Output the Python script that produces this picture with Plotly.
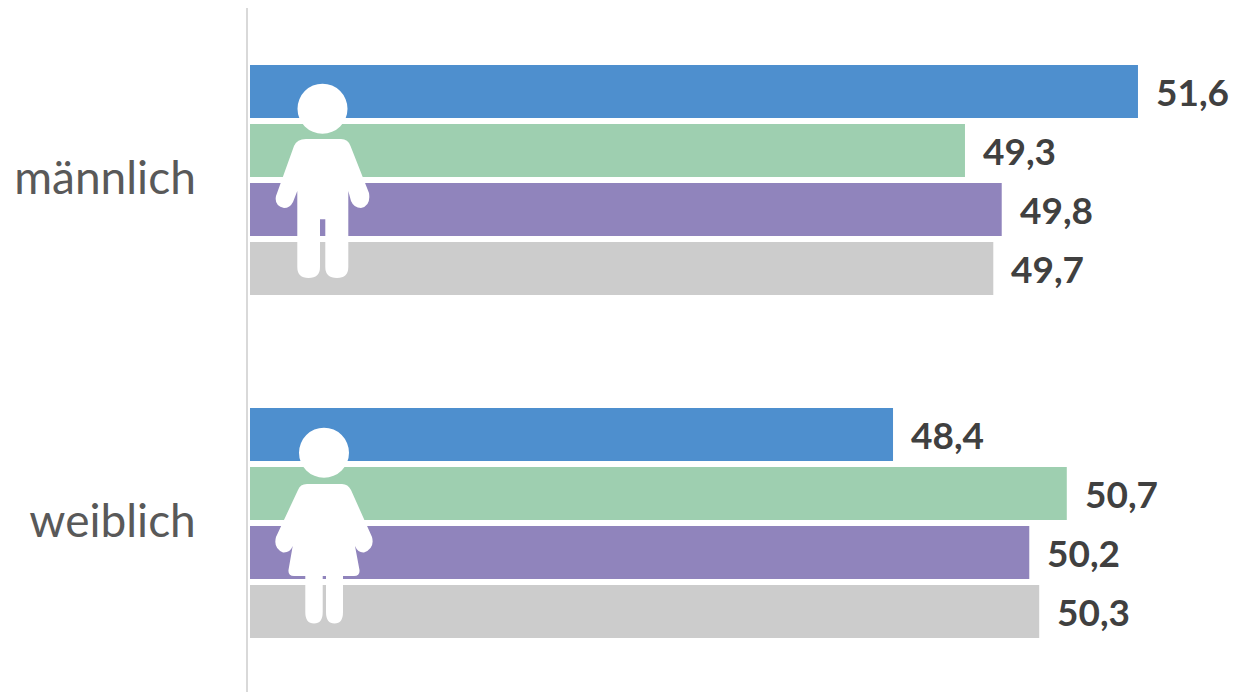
import plotly.graph_objects as go

categories = ["männlich", "weiblich"]
series_names = ["Reihe 1", "Reihe 2", "Reihe 3", "Reihe 4"]
series_1 = [51.6, 48.4]
series_2 = [49.34, 50.67]
series_3 = [49.82, 50.18]
series_4 = [49.71, 50.31]
labels_1 = ["51,6", "48,4"]
labels_2 = ["49,3", "50,7"]
labels_3 = ["49,8", "50,2"]
labels_4 = ["49,7", "50,3"]
colors = ["#4e8fce", "#9ecfb0", "#9084bc", "#cccccc"]

BASE = 40
W, H = 1234, 692
L, T = 248, 8
PX_PER_UNIT = 76.55
GROUP_PITCH = 343
BAR_PITCH = 59

series = [series_1, series_2, series_3, series_4]
labels = [labels_1, labels_2, labels_3, labels_4]


def fx(x):
    return (x - L) / (W - L)


def fy(y):
    return 1 - (y - T) / (H - T)


def path(cmds):
    out = []
    for c in cmds:
        op, pts = c[0], c[1:]
        out.append(op + " ".join(f"{fx(pts[i]):.5f},{fy(pts[i + 1]):.5f}" for i in range(0, len(pts), 2)))
    return " ".join(out) + " Z"


man = [
    ("M", 306, 139), ("L", 341, 139), ("Q", 348, 139, 350.5, 146), ("L", 369, 193),
    ("Q", 371, 206, 361, 208), ("Q", 354, 208, 351, 201), ("L", 348.3, 191), ("L", 348.3, 267),
    ("Q", 348.3, 278, 337, 278), ("Q", 325.3, 278, 325.3, 267), ("L", 325.3, 219.3), ("L", 320, 219.3),
    ("L", 320, 267), ("Q", 320, 278, 308.5, 278), ("Q", 297.3, 278, 297.3, 267), ("L", 297.3, 191),
    ("L", 293, 202), ("Q", 290, 208, 284, 208), ("Q", 274, 206, 276, 196), ("L", 294, 146),
    ("Q", 297, 139, 306, 139),
]
woman = [
    ("M", 307, 484), ("L", 342, 484), ("Q", 348, 484, 351, 490), ("L", 372, 537),
    ("Q", 375, 548, 364, 552.5), ("Q", 358, 553, 355, 546), ("L", 359.5, 570), ("Q", 360, 576, 354, 576),
    ("L", 343, 576), ("L", 343, 612), ("Q", 343, 623.5, 334.5, 623.5), ("Q", 326, 623.5, 326, 612),
    ("L", 326, 576), ("L", 322.7, 576), ("L", 322.7, 612), ("Q", 322.7, 623.5, 314, 623.5),
    ("Q", 305.3, 623.5, 305.3, 612), ("L", 305.3, 576), ("L", 294, 576), ("Q", 288, 576, 288.5, 570),
    ("L", 292.7, 546), ("Q", 290, 553, 283, 552.5), ("Q", 273, 548, 276, 537), ("L", 298, 490),
    ("Q", 300, 484, 307, 484),
]

fig = go.Figure()
annotations = []
for j, (name, vals, labs, col) in enumerate(zip(series_names, series, labels, colors)):
    fig.add_trace(go.Bar(
        name=name, orientation="h", y=categories,
        x=[v - BASE for v in vals], base=BASE,
        marker=dict(color=col, line=dict(width=0)),
        showlegend=False,
    ))
    for i, (v, lab) in enumerate(zip(vals, labs)):
        annotations.append(dict(
            x=v, y=i + (j - 1.5) * BAR_PITCH / GROUP_PITCH, xref="x", yref="y",
            text=f"<b>{lab}</b>", showarrow=False, xanchor="left", yanchor="middle", xshift=16,
            font=dict(family="Lato", size=37, color="#404040"),
        ))

head = lambda cx, cy, r: dict(
    type="circle", xref="paper", yref="paper", x0=fx(cx - r), x1=fx(cx + r), y0=fy(cy + r), y1=fy(cy - r),
    fillcolor="white", line=dict(width=0), layer="above",
)
shapes = [
    head(322.5, 108.7, 25),
    head(324, 452.7, 25),
    dict(type="path", xref="paper", yref="paper", path=path(man), fillcolor="white", line=dict(width=0), layer="above"),
    dict(type="path", xref="paper", yref="paper", path=path(woman), fillcolor="white", line=dict(width=0), layer="above"),
]

fig.update_layout(
    width=W, height=H, autosize=False,
    margin=dict(l=L, r=0, t=T, b=0, pad=0),
    paper_bgcolor="white", plot_bgcolor="white",
    barmode="group", bargap=0.312, bargroupgap=0.102,
    annotations=annotations, shapes=shapes,
    xaxis=dict(
        range=[BASE - (250 - L) / PX_PER_UNIT, BASE + (W - 250) / PX_PER_UNIT],
        visible=False, showgrid=False, zeroline=False, fixedrange=True,
    ),
    yaxis=dict(
        type="category", categoryorder="array", categoryarray=categories,
        range=[(H - 180) / GROUP_PITCH, (T - 180) / GROUP_PITCH],
        showline=True, linecolor="#d9d9d9", linewidth=2, ticks="", showgrid=False, zeroline=False,
        ticklabelstandoff=41, ticklabelshift=2, automargin=False,
        tickfont=dict(family="Lato", size=46, color="#595959"), fixedrange=True,
    ),
)
fig.write_html("out.html", config=dict(displayModeBar=False),
               post_script="document.body.style.margin='0';")
